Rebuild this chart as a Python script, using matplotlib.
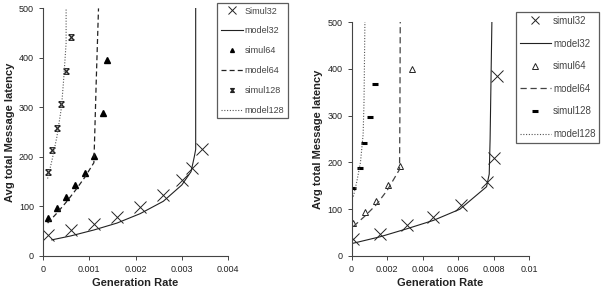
import numpy as np
import matplotlib
matplotlib.use("Agg")
from matplotlib import pyplot as plt
from matplotlib.path import Path

# ---- left panel data ----
L_sim32_x = [0.0001, 0.0006, 0.0011, 0.0016, 0.0021, 0.0026, 0.0030, 0.00323, 0.00344]
L_sim32_y = [41, 52, 64, 79, 98, 122, 154, 178, 216]
L_mod32_x = [0.00019, 0.0006, 0.0011, 0.0016, 0.0021, 0.0026, 0.0030, 0.0032, 0.00327, 0.0033, 0.0033]
L_mod32_y = [32, 40, 52, 66, 85, 110, 143, 170, 200, 215, 500]
L_sim64_x = [0.0001, 0.0003, 0.0005, 0.0007, 0.0009, 0.0011, 0.00129, 0.00138]
L_sim64_y = [77, 96, 119, 142, 168, 202, 289, 396]
L_mod64_x = [0.0001, 0.0003, 0.0005, 0.0007, 0.0009, 0.0011, 0.00112, 0.00115, 0.0012]
L_mod64_y = [66, 86, 108, 132, 158, 188, 250, 350, 500]
L_sim128_x = [0.0001, 0.0002, 0.0003, 0.0004, 0.0005, 0.0006]
L_sim128_y = [169, 214, 259, 306, 373, 443]
L_mod128_x = [0.0001, 0.0002, 0.0003, 0.0004, 0.00045, 0.0005, 0.0005]
L_mod128_y = [156, 195, 240, 300, 360, 430, 500]

# ---- right panel data ----
R_sim32_x = [0.00006, 0.0016, 0.0031, 0.00458, 0.00615, 0.0076, 0.0080, 0.0082]
R_sim32_y = [36, 48, 66, 83, 108, 158, 209, 385]
R_mod32_x = [0.00006, 0.0016, 0.0031, 0.0046, 0.0061, 0.0076, 0.00775, 0.0078, 0.0079]
R_mod32_y = [27, 41, 58, 76, 100, 148, 175, 250, 500]
R_sim64_x = [0.0001, 0.00077, 0.0014, 0.00206, 0.0027, 0.0034]
R_sim64_y = [70, 94, 118, 151, 193, 400]
R_mod64_x = [0.0001, 0.00077, 0.0014, 0.002, 0.0027, 0.00272, 0.00274]
R_mod64_y = [63, 86, 110, 140, 185, 300, 500]
R_sim128_x = [0.0001, 0.00047, 0.0007, 0.00105, 0.00133]
R_sim128_y = [146, 187, 242, 298, 367]
R_mod128_x = [0.0001, 0.0003, 0.0005, 0.00065, 0.0007, 0.00075]
R_mod128_y = [127, 160, 200, 260, 330, 500]

# hourglass marker used for simul128 on the left
hourglass = Path([(-1, 1), (1, -1), (-1, -1), (1, 1), (-1, 1), (1, 1), (-1, -1), (1, -1)],
                 [Path.MOVETO, Path.LINETO, Path.MOVETO, Path.LINETO,
                  Path.MOVETO, Path.LINETO, Path.MOVETO, Path.LINETO])

ink = "#222222"
plt.rcParams["font.family"] = "Liberation Sans"

fig = plt.figure(figsize=(6.01, 2.93), dpi=100)
axL = fig.add_axes([0.0715, 0.1273, 0.308, 0.844])
axR = fig.add_axes([0.585, 0.1263, 0.2955, 0.7986])


def style(ax, xmax, xticks, xlabels):
    ax.set_xlim(0, xmax)
    ax.set_ylim(0, 500)
    ax.set_xticks(xticks)
    ax.set_xticklabels(xlabels)
    ax.set_yticks([0, 100, 200, 300, 400, 500])
    for s in ["top", "right"]:
        ax.spines[s].set_visible(False)
    for s in ["left", "bottom"]:
        ax.spines[s].set_color("#444444")
        ax.spines[s].set_linewidth(0.8)
    ax.tick_params(labelsize=6.5, colors="#444444", labelcolor=ink, length=3, width=0.7)
    ax.set_xlabel("Generation Rate", fontsize=8, fontweight="bold", color=ink, labelpad=3)
    ax.set_ylabel("Avg total Message latency", fontsize=8, fontweight="bold", color=ink, labelpad=3)


# left
h = []
h += axL.plot(L_sim32_x, L_sim32_y, ls="none", marker="x", ms=8, mew=0.7, color=ink, label="Simul32")
h += axL.plot(L_mod32_x, L_mod32_y, ls="-", lw=0.8, color=ink, label="model32")
h += axL.plot(L_sim64_x, L_sim64_y, ls="none", marker="^", ms=4, color="black", label="simul64")
h += axL.plot(L_mod64_x, L_mod64_y, ls=(0, (4, 2.5)), lw=0.9, color=ink, label="model64")
h += axL.plot(L_sim128_x, L_sim128_y, ls="none", marker=hourglass, ms=4, mew=0.9, color=ink, label="simul128")
h += axL.plot(L_mod128_x, L_mod128_y, ls=(0, (1, 1.5)), lw=0.8, color="#555555", label="model128")
style(axL, 0.004, [0, 0.001, 0.002, 0.003, 0.004], ["0", "0.001", "0.002", "0.003", "0.004"])

legL = fig.legend(handles=h, loc="upper left", bbox_to_anchor=(0.361, 0.99), fontsize=6.5,
                  frameon=True, fancybox=False, labelspacing=1.2, handlelength=2.45,
                  handletextpad=0.2, borderpad=0.4, borderaxespad=0, markerscale=0.7,
                  labelcolor="#444444")
legL.get_frame().set_edgecolor("#333333")
legL.get_frame().set_linewidth(0.9)

# right
h = []
h += axR.plot(R_sim32_x, R_sim32_y, ls="none", marker="x", ms=8, mew=0.7, color=ink, label="simul32")
h += axR.plot(R_mod32_x, R_mod32_y, ls="-", lw=0.8, color=ink, label="model32")
h += axR.plot(R_sim64_x, R_sim64_y, ls="none", marker="^", ms=5, mew=0.7, mfc="white", color=ink, label="simul64")
h += axR.plot(R_mod64_x, R_mod64_y, ls=(0, (5, 3)), lw=0.9, color="#444444", label="model64")
h += axR.plot(R_sim128_x, R_sim128_y, ls="none", marker="_", ms=5, mew=2.2, color="black", label="simul128")
h += axR.plot(R_mod128_x, R_mod128_y, ls=(0, (1, 1.5)), lw=0.8, color="#555555", label="model128")
style(axR, 0.01, [0, 0.002, 0.004, 0.006, 0.008, 0.01], ["0", "0.002", "0.004", "0.006", "0.008", "0.01"])

legR = fig.legend(handles=h, loc="upper left", bbox_to_anchor=(0.8586, 0.959), fontsize=7,
                  frameon=True, fancybox=False, labelspacing=1.3, handlelength=3.2,
                  handletextpad=0.2, borderpad=0.4, borderaxespad=0, markerscale=0.8,
                  labelcolor="#444444")
legR.get_frame().set_edgecolor("#333333")
legR.get_frame().set_linewidth(0.9)

fig.savefig("out.png", dpi=100)
